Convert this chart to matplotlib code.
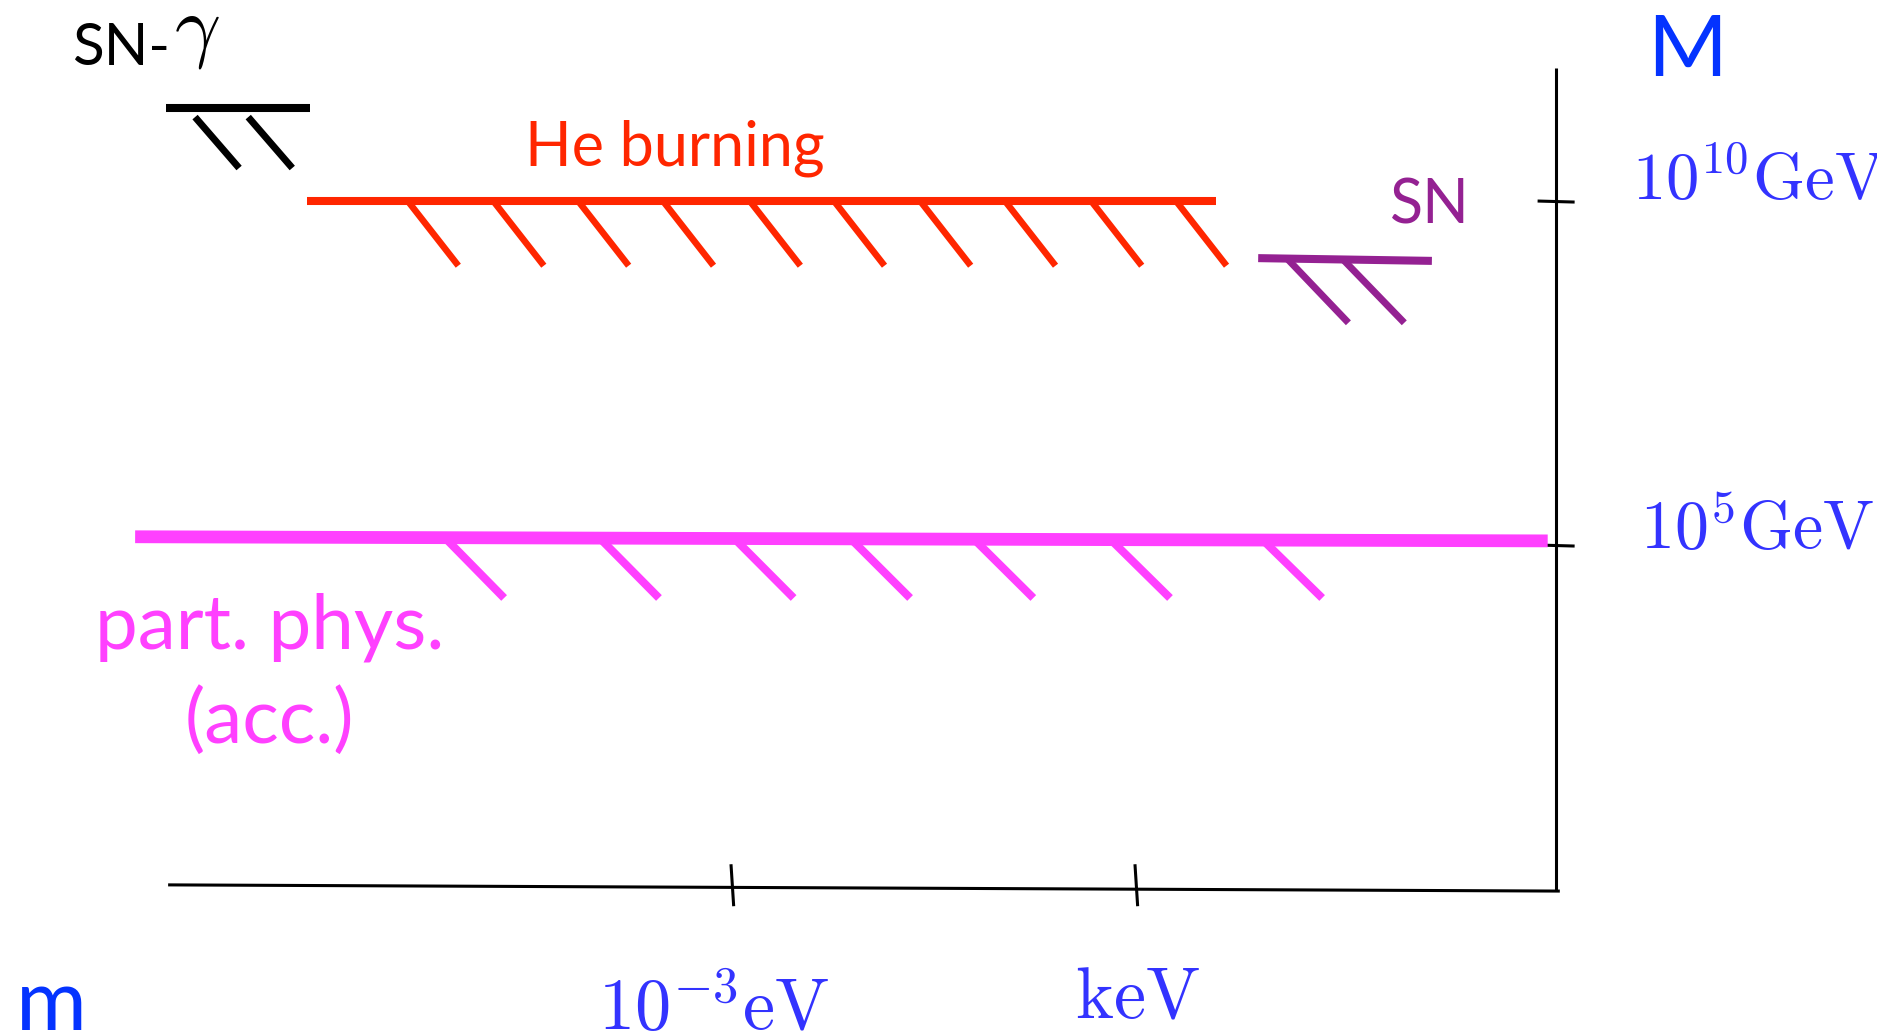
import matplotlib
matplotlib.use('Agg')
import matplotlib.pyplot as plt
import numpy as np

plt.rcParams['mathtext.fontset'] = 'cm'
plt.rcParams['font.family'] = ['Lato', 'DejaVu Sans']

# Schematic coordinates: x = log10(m / eV), y = log10(M / GeV)
# ---- axis frame ----
m_axis_x = [-11.36, 9.31]
m_axis_M = [0.06, -0.03]
M_axis_m = [9.25, 9.25]
M_axis_y = [11.93, -0.03]
m_ticks = [-3, 3]
m_tick_labels = [r'$10^{-3}\mathrm{eV}$', r'$\mathrm{keV}$']
M_ticks = [10, 5]
M_tick_labels = [r'$10^{10}\mathrm{GeV}$', r'$10^{5}\mathrm{GeV}$']

# ---- bounds (line end points, hatch start positions) ----
sngamma_x = [-11.39, -9.25]
sngamma_M = [11.35, 11.35]
sngamma_hatch = [-10.96, -10.17]

he_x = [-9.30, 4.20]
he_M = [10.0, 10.0]
he_hatch = [-7.80, -6.53, -5.27, -4.01, -2.72, -1.47, -0.19, 1.07, 2.35, 3.61]

sn_x = [4.83, 7.41]
sn_M = [9.17, 9.13]
sn_hatch = [5.26, 6.09]

pp_x = [-11.85, 9.13]
pp_M = [5.12, 5.06]
pp_hatch = [-7.25, -4.95, -2.95, -1.22, 0.61, 2.64, 4.90]

RED = '#FF2600'
MAGENTA = '#FF40FF'
PURPLE = '#942192'
BLUE = '#0433FF'
TBLUE = '#3333FF'

fig = plt.figure(figsize=(18.77, 10.35), dpi=100)
ax = fig.add_axes([0, 0, 1, 1])
ax.set_xlim(-13.857, 14.021)
ax.set_ylim(-2.122, 12.922)
ax.axis('off')

# axes
ax.plot(m_axis_x, m_axis_M, color='black', lw=2.2, solid_capstyle='butt')
ax.plot(M_axis_m, M_axis_y, color='black', lw=2.2, solid_capstyle='butt')
for t in m_ticks:
    ax.plot([t, t + 0.04], [0.36, -0.25], color='black', lw=2.2, solid_capstyle='butt')
for t in M_ticks:
    ax.plot([8.98, 9.53], [t, t - 0.015], color='black', lw=2.2, solid_capstyle='butt')


def bound(xs, Ms, hatches, color, lw, hlw, dx, M_end, M_start=None):
    ax.plot(xs, Ms, color=color, lw=lw, solid_capstyle='butt', zorder=3)
    for h in hatches:
        y0 = np.interp(h, xs, Ms) if M_start is None else M_start
        ax.plot([h, h + dx], [y0, M_end], color=color, lw=hlw,
                solid_capstyle='butt', zorder=2)


bound(sngamma_x, sngamma_M, sngamma_hatch, 'black', 5.8, 5.0, 0.654, 10.48, M_start=11.22)
bound(he_x, he_M, he_hatch, RED, 5.8, 4.7, 0.75, 9.06)
bound(sn_x, sn_M, sn_hatch, PURPLE, 5.8, 5.0, 0.91, 8.23)
bound(pp_x, pp_M, pp_hatch, MAGENTA, 9.2, 5.8, 0.88, 4.23)

# texts
ax.text(-12.79, 11.98, 'SN-', fontsize=42, color='black', ha='left', va='baseline')
ax.text(-11.28, 12.17, r'$\gamma$', fontsize=58, color='black', ha='left', va='baseline')
ax.text(-3.83, 10.51, 'He burning', fontsize=44, color=RED, ha='center', va='baseline')
ax.text(6.79, 9.67, 'SN', fontsize=44, color=PURPLE, ha='left', va='baseline')
ax.text(-9.85, 3.50, 'part. phys.', fontsize=55, color=MAGENTA, ha='center', va='baseline')
ax.text(-9.85, 2.12, '(acc.)', fontsize=55, color=MAGENTA, ha='center', va='baseline')
ax.text(11.20, 11.82, 'M', fontsize=62, color=BLUE, ha='center', va='baseline')
ax.text(-13.62, -2.05, 'm', fontsize=62, color=BLUE, ha='left', va='baseline')

ax.text(-4.97, -2.05, m_tick_labels[0], fontsize=52, color=TBLUE, ha='left', va='baseline')
ax.text(3.03, -1.875, m_tick_labels[1], fontsize=52, color=TBLUE, ha='center', va='baseline')
ax.text(10.38, 10.01, M_tick_labels[0], fontsize=48, color=TBLUE, ha='left', va='baseline')
ax.text(10.50, 4.94, M_tick_labels[1], fontsize=49, color=TBLUE, ha='left', va='baseline')

fig.savefig('out.png', dpi=100)
